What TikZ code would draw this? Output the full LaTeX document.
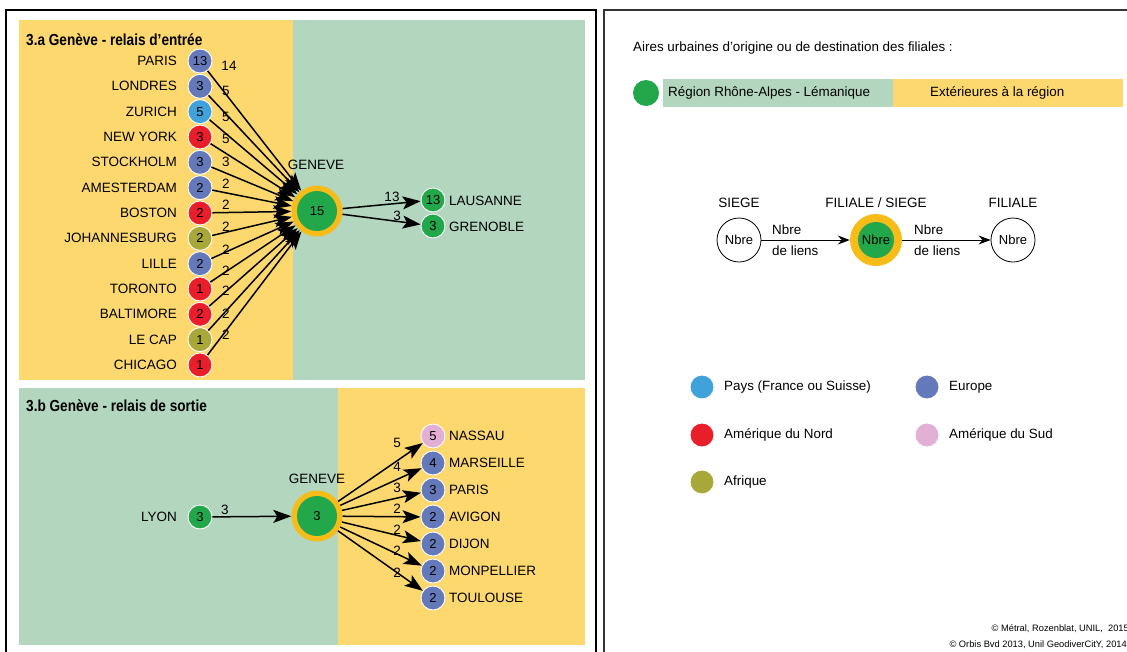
\documentclass[tikz,border=0pt]{standalone}
\usepackage{fontspec}
\setmainfont{Liberation Sans}
\usetikzlibrary{arrows.meta}
\definecolor{bgyellow}{HTML}{FDD86F}
\definecolor{bggreen}{HTML}{B3D6BE}
\definecolor{cgreen}{HTML}{22A84A}
\definecolor{ceurope}{HTML}{6479B9}
\definecolor{cpays}{HTML}{3FA2DB}
\definecolor{cnam}{HTML}{E81E2B}
\definecolor{cafr}{HTML}{A8A83A}
\definecolor{csam}{HTML}{E2B0D4}
\definecolor{cring}{HTML}{F8BC18}
\newcommand{\fsz}[1]{\fontsize{#1}{#1}\selectfont}
\tikzset{
  city/.style={circle, fill=#1, draw=white, line width=0.9pt, minimum size=24pt,
    inner sep=0pt, font=\fsz{13}},
  lbl/.style={inner sep=0pt, font=\fsz{13.5}},
  cnt/.style={inner sep=0pt, font=\fsz{13.5}},
  heading/.style={inner sep=0pt, anchor=west, font=\fsz{16}\bfseries},
  link/.style={line width=1.5pt, -{Stealth[length=18pt,width=13pt,inset=4pt]}},
  hub/.style={circle, fill=cring, minimum size=#1, inner sep=0pt},
  core/.style={circle, fill=cgreen, minimum size=#1, inner sep=0pt, font=\fsz{13}},
  legtext/.style={inner sep=0pt, anchor=west, font=\fsz{13.4}},
  open/.style={circle, draw=black, line width=0.8pt, fill=white, minimum size=44pt,
    inner sep=0pt, font=\fsz{13}},
  thin/.style={line width=1pt, -{Stealth[length=12pt,width=9pt,inset=4pt]}},
  frame/.style={line width=1.4pt}
}
\begin{document}
\begin{tikzpicture}[x=1pt, y=-1pt]
\useasboundingbox (0,0) rectangle (1127,651);
\clip (0,0) rectangle (1127,651);
\fill[white] (0,0) rectangle (1127,651);

% frames
\draw[frame, black] (6,670) -- (6,10) -- (596,10) -- (596,670);
\draw[frame, black!80] (604,670) -- (604,10) -- (1140,10);

% panel backgrounds
\fill[bgyellow] (19,20) rectangle (293,380);
\fill[bggreen] (293,20) rectangle (585,380);
\fill[bggreen] (19,388) rectangle (338,645);
\fill[bgyellow] (338,388) rectangle (585,645);

% ---------- 3.a : incoming relay ----------
\node[heading] at (26,40) {\scalebox{0.85}[1]{3.a Genève - relais d’entrée}};

\node[hub=51pt] (ga) at (317,211) {};
\node[core=40pt] (gac) at (317,211) {15};
\node[lbl] (gal) at (316,165) {GENEVE};

\foreach \i/\nm/\n/\col/\c/\dx/\dy in {
  0/PARIS/13/ceurope/14/229/5, 1/LONDRES/3/ceurope/5/226/5, 2/ZURICH/5/cpays/5/226/5,
  3/NEW YORK/3/cnam/5/226/2, 4/STOCKHOLM/3/ceurope/3/226/0, 5/AMESTERDAM/2/ceurope/2/226/-4,
  6/BOSTON/2/cnam/2/226/-8, 7/JOHANNESBURG/2/cafr/2/226/-12, 8/LILLE/2/ceurope/2/226/-14,
  9/TORONTO/1/cnam/2/226/-18, 10/BALTIMORE/2/cnam/2/226/-24, 11/LE CAP/1/cafr/2/226/-26,
  12/CHICAGO/1/cnam/2/226/-30}{
  \pgfmathsetmacro{\yy}{61+25.33*\i}
  \node[city=\col] (a\i) at (200,\yy) {\n};
  \node[lbl, anchor=east] (an\i) at (177,\yy) {\nm};
  \draw[link] (a\i) -- (ga);
  \node[cnt] (ac\i) at (\dx,\yy+\dy) {\c};
}

\node[city=cgreen] (laus) at (433,200) {13};
\node[city=cgreen] (gren) at (433,226) {3};
\node[lbl, anchor=west] (lausl) at (449,201) {LAUSANNE};
\node[lbl, anchor=west] (grenl) at (449,227) {GRENOBLE};
\draw[link] (ga) -- (laus);
\draw[link] (ga) -- (gren);
\node[cnt] (c13) at (392,197) {13};
\node[cnt] (c3) at (397,216) {3};

% ---------- 3.b : outgoing relay ----------
\node[heading] at (26,406) {\scalebox{0.85}[1]{3.b Genève - relais de sortie}};

\node[hub=51pt] (gb) at (317,516) {};
\node[core=40pt] (gbc) at (317,516) {3};
\node[lbl] (gbl) at (317,479) {GENEVE};

\node[city=cgreen] (lyon) at (200,517) {3};
\node[lbl, anchor=east] (lyonl) at (177,517) {LYON};
\draw[link] (lyon) -- (gb);
\node[cnt] (lyonc) at (225,510) {3};

\foreach \i/\nm/\n/\col/\yy/\ly in {
  0/NASSAU/5/csam/436/443, 1/MARSEILLE/4/ceurope/463/467, 2/PARIS/3/ceurope/490/488,
  3/AVIGON/2/ceurope/517/509, 4/DIJON/2/ceurope/544/530, 5/MONPELLIER/2/ceurope/571/551,
  6/TOULOUSE/2/ceurope/598/573}{
  \node[city=\col] (b\i) at (433,\yy) {\n};
  \node[lbl, anchor=west] (bn\i) at (449,\yy) {\nm};
  \draw[link] (gb) -- (b\i);
  \node[cnt] (bc\i) at (397,\ly) {\n};
}

% ---------- legend ----------
\node[legtext] (ltitle) at (633,48)
  {Aires urbaines d’origine ou de destination des filiales :};
\fill[bggreen] (663,79) rectangle (893,107);
\fill[bgyellow] (893,79) rectangle (1123,107);
\node[circle, fill=cgreen, minimum size=26pt, inner sep=0pt] (ldot) at (646,93) {};
\node[legtext] (lreg) at (668,93) {Région Rhône-Alpes - Lémanique};
\node[legtext] (lext) at (930,93) {Extérieures à la région};

% relay scheme
\node[open] (siege) at (739,240) {Nbre};
\node[hub=52pt] (fs) at (876,240) {};
\node[core=36pt] (fsc) at (876,240) {Nbre};
\node[open] (fil) at (1013,240) {Nbre};
\node[lbl] (siegel) at (739,203) {SIEGE};
\node[lbl] (fsl) at (876,203) {FILIALE / SIEGE};
\node[lbl] (fill) at (1013,203) {FILIALE};
\draw[thin] (siege) -- (fs);
\draw[thin] (fs) -- (fil);
\node[legtext] (n1) at (772,230) {Nbre};
\node[legtext] (d1) at (772,251) {de liens};
\node[legtext] (n2) at (914,230) {Nbre};
\node[legtext] (d2) at (914,251) {de liens};

% continents
\node[city=cpays] (kp) at (702,387) {};
\node[legtext] at (724,387) {Pays (France ou Suisse)};
\node[city=ceurope] (ke) at (927,387) {};
\node[legtext] at (949,387) {Europe};
\node[city=cnam] (kn) at (702,435) {};
\node[legtext] at (724,435) {Amérique du Nord};
\node[city=csam] (ks) at (927,435) {};
\node[legtext] at (949,435) {Amérique du Sud};
\node[city=cafr] (ka) at (702,482) {};
\node[legtext] at (724,482) {Afrique};

% credits
\node[inner sep=0pt, anchor=east, font=\fsz{9.3}] (cr1) at (1129,629) {© Métral, Rozenblat, UNIL,\ \ 2015};
\node[inner sep=0pt, anchor=east, font=\fsz{9.3}] (cr2) at (1127,645) {© Orbis Bvd 2013, Unil GeodiverCitY, 2014};
\end{tikzpicture}
\end{document}
